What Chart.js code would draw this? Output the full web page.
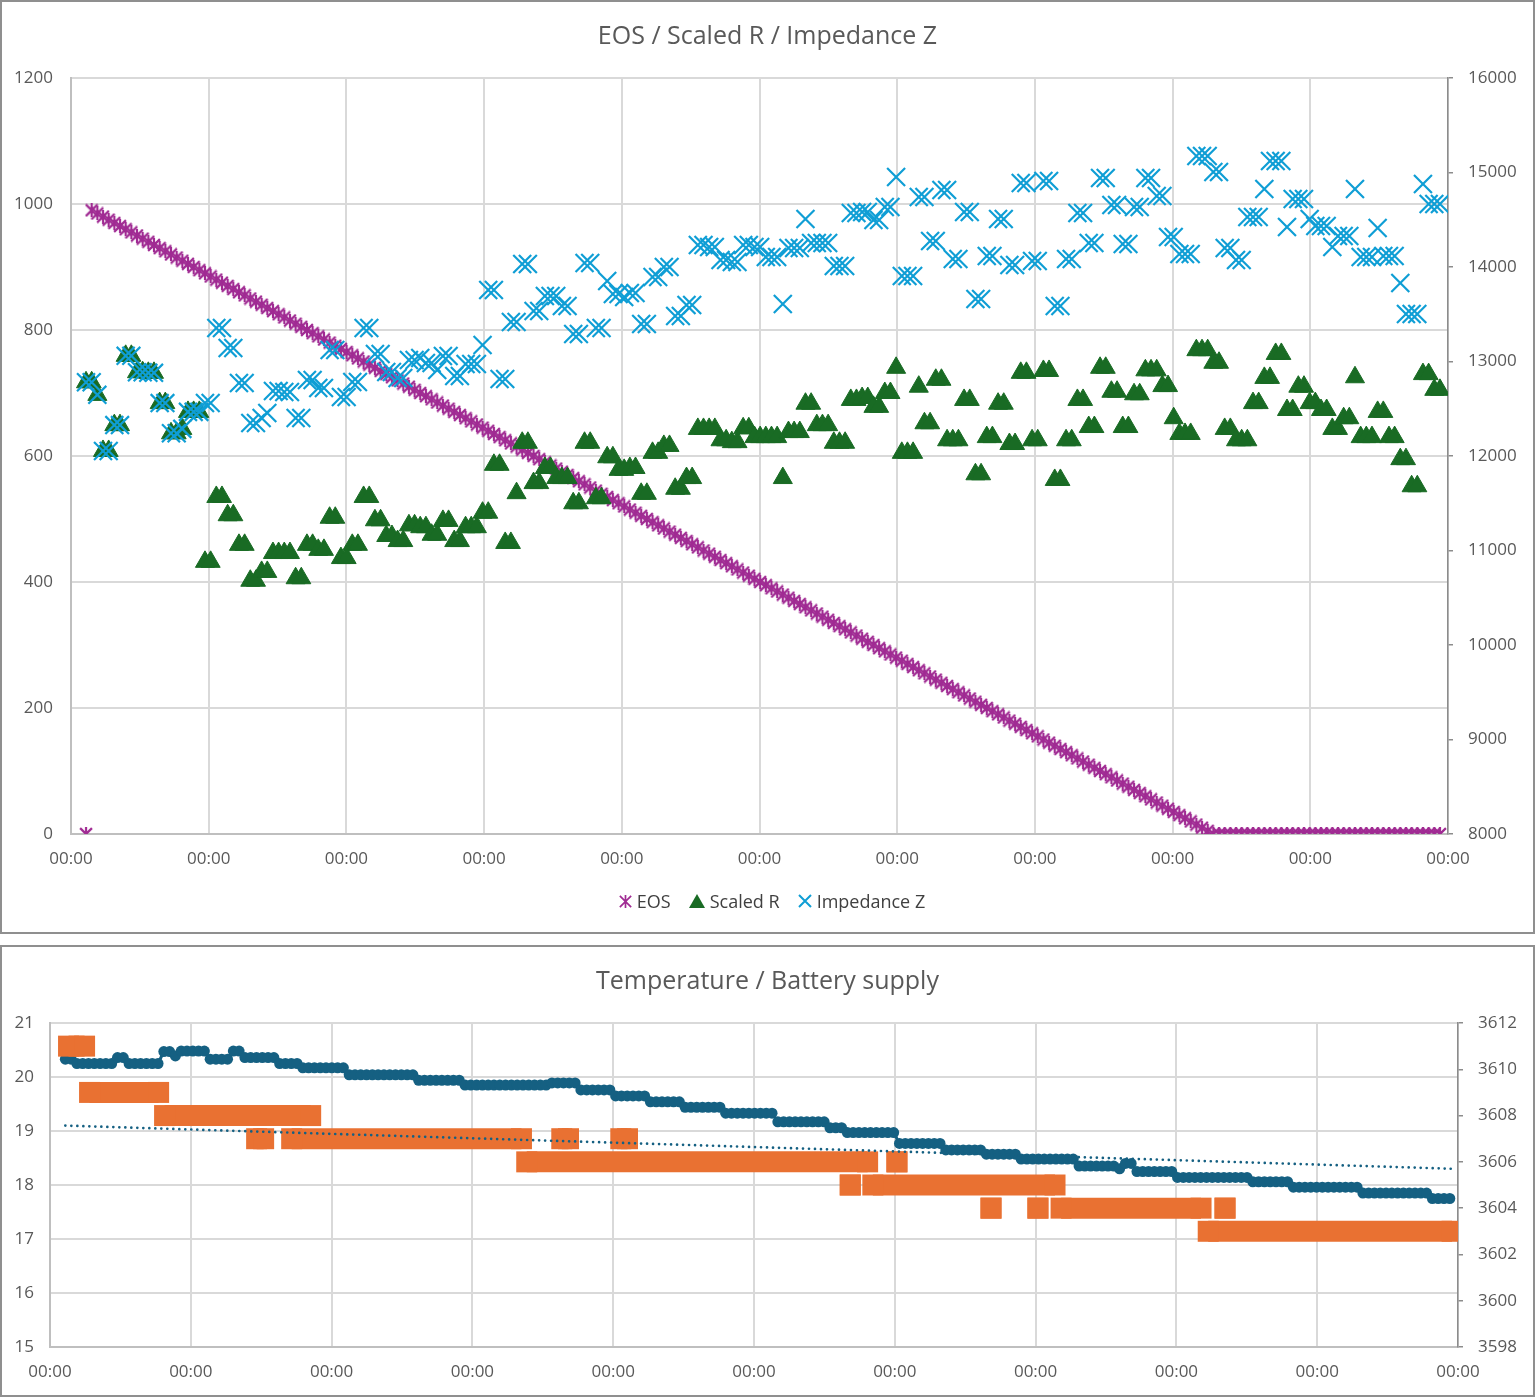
<!DOCTYPE html>
<html>
<head>
<meta charset="utf-8">
<script src="https://cdn.jsdelivr.net/npm/chart.js@4.4.1/dist/chart.umd.min.js"></script>
<style>
  body { margin: 0; background: #fff; width: 1535px; height: 1397px; position: relative; overflow: hidden; font-family: "Open Sans", sans-serif; }
  .frame { position: absolute; left: 0; width: 1535px; box-sizing: border-box; border: 2px solid #8f8f8f; }
  canvas.chart { position: absolute; left: 0; }
  .title { position: absolute; left: 0; width: 1535px; text-align: center; color: #595959; font-size: 25px; line-height: 32px; }
  #legend { position: absolute; left: 0; top: 889px; width: 1535px; box-sizing: border-box; padding-left: 9px;
            display: flex; justify-content: center; gap: 18px; font-size: 18px; line-height: 24px; color: #404040; }
  #legend span { display: flex; align-items: center; gap: 5px; }
  #legend canvas { display: block; }
</style>
</head>
<body>
<div class="frame" style="top:0;height:934px"></div>
<div class="frame" style="top:945px;height:452px"></div>
<canvas id="topChart" class="chart" width="1535" height="934" style="top:0"></canvas>
<canvas id="bottomChart" class="chart" width="1535" height="452" style="top:945px"></canvas>
<div class="title" style="top:18px">EOS / Scaled R / Impedance Z</div>
<div class="title" style="top:963px">Temperature / Battery supply</div>
<div id="legend"></div>

<script>
// samples (one per row of the log), x = sample number
const eos = [0,
  990,985,980,975,970,965,960,955,950,945,
  940,935,930,925,920,915,910,905,900,895,
  890,885,880,875,870,865,860,855,850,845,
  840,835,830,825,820,815,810,805,800,795,
  790,785,780,775,770,765,760,755,750,745,
  740,735,730,725,720,715,710,705,700,695,
  690,685,680,675,670,665,660,655,650,645,
  640,635,630,625,620,615,610,605,600,595,
  590,585,580,575,570,565,560,555,550,545,
  540,535,530,525,520,515,510,505,500,495,
  490,485,480,475,470,465,460,455,450,445,
  440,435,430,425,420,415,410,405,400,395,
  390,385,380,375,370,365,360,355,350,345,
  340,335,330,325,320,315,310,305,300,295,
  290,285,280,275,270,265,260,255,250,245,
  240,235,230,225,220,215,210,205,200,195,
  190,185,180,175,170,165,160,155,150,145,
  140,135,130,125,120,115,110,105,100,95,
  90,85,80,75,70,65,60,55,50,45,
  40,35,30,25,20,15,10,5,0,
  0,0,0,0,0,0,0,0,0,0,
  0,0,0,0,0,0,0,0,0,0,
  0,0,0,0,0,0,0,0,0,0,
  0,0,0,0,0,0,0,0,0,0];

const scaledR = [
  717,717,697,608,608,649,649,759,759,733,733,732,732,684,684,636,636,643,670,670,670,
  432,432,535,535,506,506,459,459,402,402,
  416,416,446,446,446,446,406,406,459,459,
  451,451,502,502,438,438,459,459,535,535,
  498,498,473,473,465,465,490,490,487,487,
  475,475,497,497,465,465,487,487,487,510,
  510,586,586,462,462,541,621,621,557,557,
  581,581,565,565,565,525,525,621,621,533,
  533,598,598,578,578,581,581,540,540,605,
  605,616,616,548,548,565,565,643,643,643,
  643,625,625,622,622,644,644,630,630,630,
  630,630,565,638,638,638,683,683,649,649,
  649,621,621,621,689,689,692,692,678,678,
  700,700,740,605,605,605,710,652,652,721,
  721,625,625,625,689,689,571,571,630,630,
  683,683,619,619,732,732,625,625,735,735,
  562,562,625,625,689,689,646,646,740,740,
  702,702,646,646,698,698,736,736,736,711,
  711,660,635,635,635,768,768,768,748,748,
  643,643,625,625,625,684,684,724,724,762,
  762,673,673,710,710,684,684,673,673,643,
  643,660,660,725,630,630,630,670,670,630,
  630,595,595,552,552,730,730,705,705];

const impedanceZ = [
  12780,12780,12647,12053,12053,12327,12327,13060,13060,12887,12887,12880,12880,12560,12560,12240,12240,12287,12467,12467,12467,
  12561,12561,13354,13354,13143,13143,12772,12772,12349,12349,
  12402,12455,12688,12688,12677,12677,12402,12402,12804,12804,
  12720,12720,13122,13122,12624,12624,12783,12783,13354,13354,
  13079,13079,12889,12889,12825,12825,13016,13016,13037,12984,
  12984,12910,13058,13058,12847,12847,12974,12974,12974,13175,
  13757,13757,12815,12815,13418,13418,14032,14032,13534,13534,
  13693,13693,13693,13587,13587,13291,13291,14042,14042,13354,
  13354,13852,13714,13714,13682,13725,13725,13397,13397,13894,
  13894,14000,14000,13481,13481,13598,13598,14233,14233,14212,
  14212,14074,14074,14053,14053,14233,14233,14212,14212,14106,
  14106,14106,13608,14201,14201,14201,14508,14254,14254,14254,
  14254,14011,14011,14011,14571,14571,14582,14582,14497,14497,
  14635,14635,14952,13905,13905,13905,14741,14741,14275,14275,
  14815,14815,14085,14085,14582,14582,13661,13661,14116,14116,
  14508,14508,14021,14021,14889,14889,14063,14063,14910,14910,
  13587,13587,14085,14085,14571,14571,14254,14254,14942,14942,
  14656,14656,14243,14243,14635,14635,14942,14942,14751,14751,
  14317,14317,14138,14138,14138,15175,15175,15175,15005,15005,
  14201,14201,14074,14074,14529,14529,14529,14825,15122,15122,
  15122,14423,14720,14720,14720,14508,14434,14434,14434,14212,
  14328,14328,14328,14825,14106,14106,14106,14413,14116,14116,
  14116,13831,13503,13503,13503,14878,14667,14667,14667];

const temperature = [
  20.33,20.33,20.25,20.25,20.25,20.25,20.25,20.25,20.25,20.36,
  20.36,20.25,20.25,20.25,20.25,20.25,20.25,20.47,20.47,20.39,
  20.48,20.48,20.48,20.48,20.48,20.33,20.33,20.33,20.33,20.48,
  20.48,20.36,20.36,20.36,20.36,20.36,20.36,20.25,20.25,20.25,
  20.25,20.17,20.17,20.17,20.17,20.17,20.17,20.17,20.17,20.04,
  20.04,20.04,20.04,20.04,20.04,20.04,20.04,20.04,20.04,20.04,
  20.04,19.94,19.94,19.94,19.94,19.94,19.94,19.94,19.94,19.85,
  19.85,19.85,19.85,19.85,19.85,19.85,19.85,19.85,19.85,19.85,
  19.85,19.85,19.85,19.85,19.89,19.89,19.89,19.89,19.89,19.76,
  19.76,19.76,19.76,19.76,19.76,19.65,19.65,19.65,19.65,19.65,
  19.65,19.54,19.54,19.54,19.54,19.54,19.54,19.44,19.44,19.44,
  19.44,19.44,19.44,19.44,19.33,19.33,19.33,19.33,19.33,19.33,
  19.33,19.33,19.33,19.17,19.17,19.17,19.17,19.17,19.17,19.17,
  19.17,19.17,19.06,19.06,19.06,18.97,18.97,18.97,18.97,18.97,
  18.97,18.97,18.97,18.97,18.77,18.77,18.77,18.77,18.77,18.77,
  18.77,18.77,18.65,18.65,18.65,18.65,18.65,18.65,18.65,18.57,
  18.57,18.57,18.57,18.57,18.57,18.48,18.48,18.48,18.48,18.48,
  18.48,18.48,18.48,18.48,18.48,18.35,18.35,18.35,18.35,18.35,
  18.35,18.35,18.3,18.4,18.4,18.25,18.25,18.25,18.25,18.25,
  18.25,18.25,18.14,18.14,18.14,18.14,18.14,18.14,18.14,18.14,
  18.14,18.14,18.14,18.14,18.14,18.06,18.06,18.06,18.06,18.06,
  18.06,18.06,17.96,17.96,17.96,17.96,17.96,17.96,17.96,17.96,
  17.96,17.96,17.96,17.96,17.85,17.85,17.85,17.85,17.85,17.85,
  17.85,17.85,17.85,17.85,17.85,17.85,17.75,17.75,17.75,17.75];

// battery supply: runs of equal readings (first sample, last sample, mV)
const battStart = [0.55, 4.18, 17.13, 33.02, 39.07, 85.7, 95.89, 79.65, 143.56, 135.5, 139.4, 159.8, 167.9, 171.9, 200.2, 197.3];
const battEnd   = [3.32, 16.1, 42.35, 34.23, 78.74, 86.86, 97.05, 138.5, 143.56, 135.5, 170.85, 159.8, 167.9, 196.06, 200.2, 239.4];
const battMv    = [3611, 3609, 3608, 3607, 3607, 3607, 3607, 3606, 3606, 3605, 3605, 3604, 3604, 3604, 3604, 3603];

// dotted trend line
const trendX = [0, 239.5];
const trendY = [19.1, 18.3];

const xMin = -2.65, xMax = 240.42;
const xTickLabel = "00:00";

Chart.defaults.font.family = '"Open Sans", sans-serif';
Chart.defaults.font.size = 17;
Chart.defaults.color = "#595959";

const pts = (arr) => arr.map((v, i) => ({ x: i, y: v }));
const plain = (v) => String(v);

function starMarker(size, lw) {
  const c = document.createElement("canvas");
  c.width = c.height = size;
  const g = c.getContext("2d");
  g.strokeStyle = "#A02B93";
  g.lineWidth = lw;
  const a = lw / 2, b = size - lw / 2, m = size / 2;
  g.beginPath();
  g.moveTo(a, a); g.lineTo(b, b);
  g.moveTo(b, a); g.lineTo(a, b);
  g.moveTo(m, 0); g.lineTo(m, size);
  g.stroke();
  return c;
}

function triMarker(w, h) {
  const c = document.createElement("canvas");
  c.width = w; c.height = h;
  const g = c.getContext("2d");
  g.fillStyle = "#196B24";
  g.beginPath();
  g.moveTo(w / 2, 0); g.lineTo(w, h); g.lineTo(0, h);
  g.closePath(); g.fill();
  return c;
}

function xMarker(size, lw) {
  const c = document.createElement("canvas");
  c.width = c.height = size;
  const g = c.getContext("2d");
  g.strokeStyle = "#0F9ED5";
  g.lineWidth = lw;
  g.beginPath();
  g.moveTo(1, 1); g.lineTo(size - 1, size - 1);
  g.moveTo(size - 1, 1); g.lineTo(1, size - 1);
  g.stroke();
  return c;
}

function timeAxis(height) {
  return {
    type: "linear", min: xMin, max: xMax,
    afterBuildTicks: (s) => {
      s.ticks = [];
      for (let k = 0; k <= 10; k++) s.ticks.push({ value: xMin + k * (xMax - xMin) / 10 });
    },
    ticks: { callback: () => xTickLabel, padding: 15, maxRotation: 0, autoSkip: false },
    grid: { color: "#d9d9d9", lineWidth: 2, drawTicks: false },
    border: { color: "#bfbfbf", width: 2 },
    afterFit: (s) => { s.height = height; }
  };
}

function leftAxis(min, max, step, width, pad) {
  return {
    type: "linear", position: "left", min: min, max: max,
    ticks: { stepSize: step, padding: pad, callback: plain },
    grid: { color: "#d9d9d9", lineWidth: 2, drawTicks: false },
    border: { color: "#bfbfbf", width: 2 },
    afterFit: (s) => { s.width = width; }
  };
}

function rightAxis(min, max, step, width, pad) {
  return {
    type: "linear", position: "right", min: min, max: max,
    ticks: { stepSize: step, padding: pad, callback: plain },
    grid: { drawOnChartArea: false, drawTicks: true, tickLength: 5, color: "#8c8c8c", lineWidth: 1.5 },
    border: { color: "#8c8c8c", width: 1.5 },
    afterFit: (s) => { s.width = width; }
  };
}

const basePlugins = { legend: { display: false }, tooltip: { enabled: false }, title: { display: false } };

new Chart(document.getElementById("topChart"), {
  type: "scatter",
  data: {
    datasets: [
      { label: "EOS", data: pts(eos), yAxisID: "yL", order: 2,
        pointStyle: starMarker(14, 2.2), pointRadius: 7 },
      { label: "Scaled R", data: pts(scaledR), yAxisID: "yL", order: 1,
        pointStyle: "triangle", pointRadius: 11,
        pointBackgroundColor: "#196B24", pointBorderColor: "#196B24", pointBorderWidth: 1 },
      { label: "Impedance Z", data: pts(impedanceZ), yAxisID: "yR", order: 0,
        pointStyle: "crossRot", pointRadius: 12.7,
        pointBorderColor: "#0F9ED5", pointBorderWidth: 2.2 }
    ]
  },
  options: {
    responsive: false, animation: false,
    layout: { padding: { top: 78, left: 0, right: 0, bottom: 0 } },
    scales: {
      x: timeAxis(100),
      yL: leftAxis(0, 1200, 200, 71, 18),
      yR: rightAxis(8000, 16000, 1000, 87, 15)
    },
    plugins: basePlugins
  }
});

const battSets = battMv.map((mv, k) => ({
  type: "line", yAxisID: "yR", order: 1,
  data: [{ x: battStart[k], y: mv }, { x: battEnd[k], y: mv }],
  borderColor: "#E97132", borderWidth: 21, borderCapStyle: "butt",
  pointStyle: "rect", pointRadius: 14.85, pointBackgroundColor: "#E97132", pointBorderWidth: 0
}));

new Chart(document.getElementById("bottomChart"), {
  type: "line",
  data: {
    datasets: [
      { label: "Trend", data: trendX.map((x, i) => ({ x: x, y: trendY[i] })), yAxisID: "yL", order: 0,
        borderColor: "#156082", borderWidth: 2.7, borderDash: [0, 6], borderCapStyle: "round", pointRadius: 0 },
      ...battSets,
      { label: "Temperature", data: pts(temperature), yAxisID: "yL", order: 2,
        borderColor: "#156082", borderWidth: 3, pointRadius: 5.5,
        pointBackgroundColor: "#156082", pointBorderWidth: 0 }
    ]
  },
  options: {
    responsive: false, animation: false,
    layout: { padding: { top: 78, left: 0, right: 0, bottom: 0 } },
    scales: {
      x: timeAxis(50),
      yL: leftAxis(15, 21, 1, 50, 16),
      yR: rightAxis(3598, 3612, 2, 77, 15)
    },
    plugins: basePlugins
  }
});

// legend for the top chart
const legend = document.getElementById("legend");
[["EOS", starMarker(13, 1.7)], ["Scaled R", triMarker(16, 14)], ["Impedance Z", xMarker(14, 2)]].forEach(([name, mk]) => {
  const item = document.createElement("span");
  item.appendChild(mk);
  item.appendChild(document.createTextNode(name));
  legend.appendChild(item);
});
</script>
</body>
</html>
